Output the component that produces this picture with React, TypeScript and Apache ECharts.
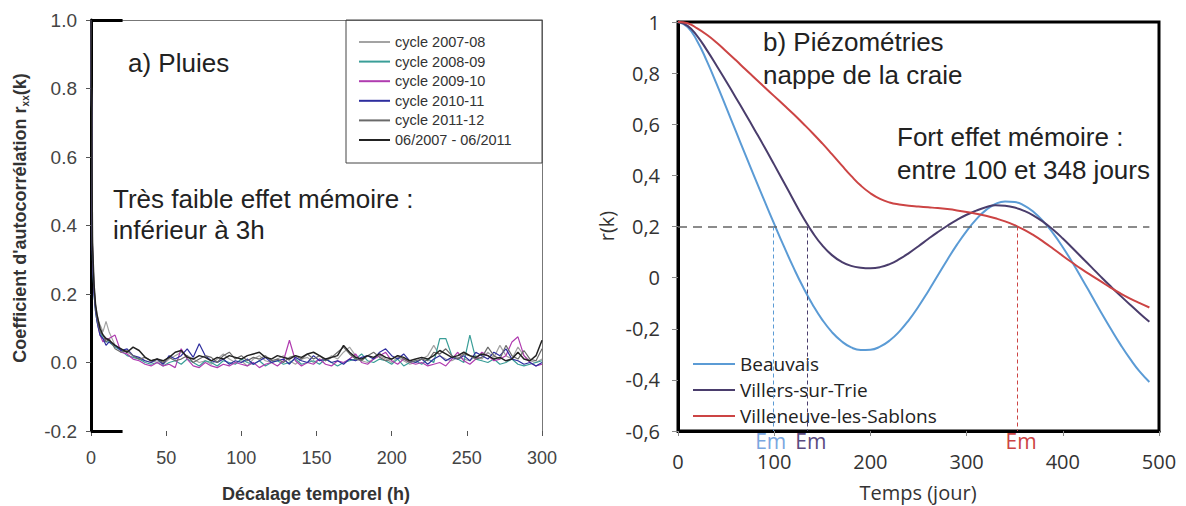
import React, { useEffect, useRef } from 'react';
import * as echarts from 'echarts';

// ---------- Panel a) : rainfall autocorrelation ----------
const LAGS = [
  0, 1, 2, 3, 4, 5, 6, 8, 10,
  12, 16, 20, 24, 28, 32, 36, 40, 44, 48,
  52, 56, 60, 64, 68, 72, 76, 80, 84, 88,
  92, 96, 100, 104, 108, 112, 116, 120, 124, 128,
  132, 136, 140, 144, 148, 152, 156, 160, 164, 168,
  172, 176, 180, 184, 188, 192, 196, 200, 204, 208,
  212, 216, 220, 224, 228, 232, 236, 240, 244, 248,
  252, 256, 260, 264, 268, 272, 276, 280, 284, 288,
  292, 296, 300,
];

const CYCLE_2007_08 = [
  1.0, 0.33, 0.22, 0.17, 0.14, 0.12, 0.11, 0.09, 0.12,
  0.09, 0.05, 0.04, 0.03, 0.02, 0.01, 0.005, 0, 0.005, -0.005,
  0.01, 0.02, 0.03, 0.02, 0.01, 0, 0.005, -0.005, 0.01, 0.025,
  0.01, 0, 0.005, -0.01, 0.01, 0.02, 0.005, 0, 0.01, 0.02,
  0.005, -0.005, 0.01, 0.015, 0, 0.01, 0.005, 0.02, 0.01, 0.03,
  0.045, 0.02, 0.005, 0, 0.01, 0.02, 0.01, 0, 0.015, 0.005,
  -0.005, 0, 0.01, 0.02, 0.05, 0.02, 0.01, 0.005, 0.015, 0.01,
  0.005, 0.02, 0.01, 0.03, 0.015, 0.05, 0.02, 0.01, 0.045, 0.02,
  0.005, 0, 0.01,
];
const CYCLE_2008_09 = [
  1.0, 0.30, 0.20, 0.15, 0.12, 0.10, 0.09, 0.07, 0.06,
  0.06, 0.045, 0.035, 0.02, 0.015, 0.01, 0, -0.005, 0, -0.01,
  0, 0.005, -0.005, 0.01, 0, -0.01, 0.005, 0, -0.01, 0.005,
  0, -0.005, 0.01, 0, -0.005, 0.005, -0.01, 0, 0.005, -0.005,
  0, 0.01, -0.005, 0, 0.005, -0.005, 0.01, 0, -0.01, 0,
  0.005, 0.01, 0.025, 0.005, 0, 0.01, 0.005, -0.005, 0.01, -0.01,
  0, 0.005, -0.005, 0.01, 0, 0.07, 0.07, 0.02, 0.01, 0,
  0.08, 0.01, 0.005, 0, 0.01, -0.005, 0, 0.01, -0.005, -0.01,
  -0.005, 0, 0.005,
];
const CYCLE_2009_10 = [
  1.0, 0.32, 0.21, 0.16, 0.13, 0.10, 0.08, 0.06, 0.07,
  0.07, 0.08, 0.03, 0.025, 0.01, 0.005, -0.005, -0.01, 0, -0.01,
  -0.005, -0.015, 0.04, 0.01, -0.01, -0.015, 0, -0.01, -0.015, -0.005,
  -0.01, 0, -0.005, -0.01, 0, -0.015, -0.005, 0, -0.01, 0.005,
  0.065, 0.005, -0.01, 0, -0.005, 0.01, -0.005, -0.01, 0.005, 0,
  0.01, 0.025, 0, -0.005, 0.01, 0.02, 0.03, 0.005, -0.005, 0.01,
  0, -0.005, 0, -0.01, -0.005, 0, -0.01, 0.01, 0.03, 0.005,
  -0.005, 0.01, 0.03, 0.02, 0.005, 0.01, 0.02, 0.06, 0.075, 0.02,
  0, -0.01, -0.005,
];
const CYCLE_2010_11 = [
  1.0, 0.31, 0.20, 0.15, 0.12, 0.10, 0.08, 0.07, 0.05,
  0.06, 0.05, 0.035, 0.04, 0.02, 0.015, 0.005, 0, 0.01, -0.005,
  0.02, 0.01, 0.02, 0.04, 0.015, 0.055, 0.02, 0.005, 0, 0.01,
  -0.005, 0.005, 0, 0.01, -0.005, 0.005, 0.015, 0, 0.005, 0.01,
  -0.005, 0.015, 0.005, 0, 0.02, 0.005, 0.01, 0, 0.005, -0.005,
  0.01, 0.005, 0.015, 0.02, 0.01, 0.03, 0.04, 0.02, 0.01, 0.025,
  0.005, 0, 0.01, -0.005, 0.01, 0.02, 0.005, 0.015, 0.01, 0.02,
  0.005, 0.03, 0.02, 0.01, 0.03, 0.02, 0.04, 0.01, 0.005, -0.005,
  0, -0.01, 0,
];
const CYCLE_2011_12 = [
  1.0, 0.34, 0.22, 0.16, 0.13, 0.11, 0.09, 0.08, 0.06,
  0.07, 0.04, 0.03, 0.035, 0.02, 0.01, 0.015, 0.005, 0.01, 0,
  0.015, 0.005, 0.01, 0.02, 0, 0.01, 0.02, 0.015, 0, 0.02,
  0.03, 0.01, 0.02, 0.005, 0.015, 0.01, 0.02, 0.005, 0.01, 0,
  0.015, 0.02, 0.01, 0.025, 0.01, 0.02, 0.005, 0.015, 0.03, 0.045,
  0.025, 0.01, 0.005, 0.02, 0.03, 0.015, 0.005, 0.01, 0.02, 0.01,
  0, 0.005, 0.01, 0.005, 0.03, 0.025, 0.04, 0.02, 0.01, 0.025,
  0.02, 0.01, 0.015, 0.045, 0.02, 0.01, 0.05, 0.02, 0.01, 0.035,
  0.01, 0.005, 0.04,
];
const PERIOD_2007_2011 = [
  1.0, 0.35, 0.23, 0.17, 0.14, 0.12, 0.10, 0.08, 0.07,
  0.065, 0.05, 0.04, 0.03, 0.045, 0.035, 0.015, 0.005, 0.01, 0.005,
  0.015, 0.03, 0.035, 0.015, 0.01, 0.02, 0.015, 0.005, 0.015, 0.01,
  0.02, 0.015, 0.01, 0.02, 0.025, 0.03, 0.015, 0.01, 0.02, 0.015,
  0.01, 0.02, 0.015, 0.025, 0.03, 0.02, 0.01, 0.015, 0.02, 0.05,
  0.03, 0.015, 0.01, 0.02, 0.015, 0.025, 0.015, 0.01, 0.02, 0.015,
  0.005, 0.01, 0.015, 0.01, 0.02, 0.035, 0.025, 0.015, 0.02, 0.03,
  0.02, 0.015, 0.025, 0.02, 0.01, 0.015, 0.005, 0.01, 0.03, 0.01,
  0.005, 0.02, 0.065,
];

const RAIN_NAMES = ['cycle 2007-08', 'cycle 2008-09', 'cycle 2009-10', 'cycle 2010-11', 'cycle 2011-12', '06/2007 - 06/2011'];
const RAIN_COLORS = ['#a3a3a3', '#3a9e98', '#b03cb0', '#2e2e9e', '#6a6a6a', '#222222'];
const RAIN_VALUES = [CYCLE_2007_08, CYCLE_2008_09, CYCLE_2009_10, CYCLE_2010_11, CYCLE_2011_12, PERIOD_2007_2011];
const RAIN_Y_TICKS = { min: -0.2, max: 1.0, step: 0.2 };
const RAIN_X_TICKS = { min: 0, max: 300, step: 50 };

// ---------- Panel b) : chalk aquifer piezometry ----------
const DAYS = [
  0, 10, 20, 30, 40, 50, 60, 70, 80, 90,
  100, 110, 120, 130, 140, 150, 160, 170, 180, 190,
  200, 210, 220, 230, 240, 250, 260, 270, 280, 290,
  300, 310, 320, 330, 340, 350, 360, 370, 380, 390,
  400, 410, 420, 430, 440, 450, 460, 470, 480, 490,
];
const BEAUVAIS = [
  1.0, 0.98, 0.925, 0.847, 0.759, 0.667, 0.574, 0.481, 0.389, 0.299,
  0.21, 0.123, 0.04, -0.037, -0.106, -0.165, -0.213, -0.249, -0.273, -0.283,
  -0.282, -0.27, -0.246, -0.211, -0.166, -0.113, -0.054, 0.008, 0.07, 0.129,
  0.182, 0.228, 0.264, 0.288, 0.298, 0.296, 0.282, 0.256, 0.219, 0.173,
  0.119, 0.059, -0.005, -0.071, -0.137, -0.201, -0.262, -0.318, -0.368, -0.408,
];
const VILLERS = [
  1.0, 0.985, 0.945, 0.89, 0.83, 0.768, 0.705, 0.641, 0.576, 0.51,
  0.442, 0.373, 0.304, 0.236, 0.176, 0.126, 0.088, 0.062, 0.046, 0.039,
  0.037, 0.041, 0.053, 0.072, 0.096, 0.123, 0.151, 0.178, 0.203, 0.226,
  0.246, 0.262, 0.275, 0.283, 0.281, 0.274, 0.261, 0.242, 0.217, 0.187,
  0.153, 0.116, 0.078, 0.04, 0.002, -0.035, -0.071, -0.106, -0.14, -0.173,
];
const VILLENEUVE = [
  1.0, 0.995, 0.975, 0.95, 0.92, 0.886, 0.851, 0.815, 0.78, 0.745,
  0.71, 0.675, 0.64, 0.603, 0.565, 0.525, 0.483, 0.44, 0.398, 0.36,
  0.33, 0.308, 0.294, 0.286, 0.281, 0.278, 0.275, 0.272, 0.268, 0.263,
  0.257, 0.25, 0.242, 0.232, 0.22, 0.205, 0.187, 0.165, 0.14, 0.113,
  0.085, 0.058, 0.032, 0.008, -0.016, -0.04, -0.062, -0.082, -0.1, -0.117,
];
const STATION_NAMES = ['Beauvais', 'Villers-sur-Trie', 'Villeneuve-les-Sablons'];
const STATION_COLORS = ['#5b9bd5', '#4a3d6c', '#cc4444'];
const EM_COLORS = ['#7aa6e0', '#5a4a80', '#cc4444'];
const STATION_VALUES = [BEAUVAIS, VILLERS, VILLENEUVE];
const EM_DAYS = [99, 134, 353];
const EM_THRESHOLD = 0.2;
const THRESHOLD_END = 490;
const PIEZO_Y_TICKS = { min: -0.6, max: 1, step: 0.2 };
const PIEZO_X_TICKS = { min: 0, max: 500, step: 100 };

const ARIAL = "'Liberation Sans', Arial, sans-serif";
const CAL = "'Open Sans', sans-serif";

function buildOption() {
  const rainSeries = RAIN_VALUES.map((vals, i) => {
    const s: any = {
      name: RAIN_NAMES[i],
      type: 'line',
      xAxisIndex: 0,
      yAxisIndex: 0,
      symbol: 'none',
      color: RAIN_COLORS[i],
      lineStyle: { width: i === 5 ? 1.5 : 1.2, color: RAIN_COLORS[i] },
      data: LAGS.map((l, j) => [l, vals[j]]),
      z: 2 + i,
    };
    if (i === 5) {
      s.markLine = {
        silent: true,
        symbol: ['none', 'none'],
        label: { show: false },
        lineStyle: { color: '#000', width: 3, type: 'solid' },
        data: [
          [{ coord: [RAIN_X_TICKS.min, RAIN_Y_TICKS.max] }, { coord: [21, RAIN_Y_TICKS.max] }],
          [{ coord: [RAIN_X_TICKS.min, RAIN_Y_TICKS.min] }, { coord: [21, RAIN_Y_TICKS.min] }],
        ],
      };
    }
    return s;
  });

  const emPads = [[0, 5, 0, 0], [0, 0, 0, 8], [0, 0, 0, 7]];
  const piezoSeries = STATION_VALUES.map((vals, i) => {
    const s: any = {
      name: STATION_NAMES[i],
      type: 'line',
      xAxisIndex: 2,
      yAxisIndex: 2,
      smooth: true,
      symbol: 'none',
      color: STATION_COLORS[i],
      lineStyle: { width: 2, color: STATION_COLORS[i] },
      data: DAYS.map((d, j) => [d, vals[j]]),
      z: 3,
    };
    const ml: any[] = [];
    if (i === 0) {
      ml.push([
        {
          coord: [0, EM_THRESHOLD],
          lineStyle: { color: '#666', width: 1.5, type: [9, 6] },
          label: { show: false },
        },
        { coord: [THRESHOLD_END, EM_THRESHOLD] },
      ]);
    }
    ml.push([
      {
        coord: [EM_DAYS[i], EM_THRESHOLD],
        lineStyle: { color: STATION_COLORS[i], width: 1, type: [4, 3] },
        label: {
          show: true,
          position: 'end',
          formatter: 'Em',
          color: EM_COLORS[i],
          fontSize: 21,
          lineHeight: 17,
          fontFamily: CAL,
          distance: 1,
          padding: emPads[i],
        },
      },
      { coord: [EM_DAYS[i], PIEZO_Y_TICKS.min] },
    ]);
    s.markLine = { silent: true, symbol: ['none', 'none'], data: ml };
    return s;
  });

  return {
    animation: false,
    backgroundColor: '#fff',
    textStyle: { fontFamily: ARIAL },
    grid: [
      { left: 91, top: 20, width: 451, height: 411 },
      { left: 678, top: 22, width: 481, height: 409, show: true, borderColor: '#000', borderWidth: 3, backgroundColor: 'rgba(0,0,0,0)' },
    ],
    legend: [
      {
        data: RAIN_NAMES,
        orient: 'vertical',
        icon: 'rect',
        left: 359,
        top: 34,
        padding: 0,
        itemWidth: 31,
        itemHeight: 2,
        itemGap: 3.6,
        itemTextGap: 11,
        selectedMode: false,
        textStyle: { fontSize: 14.5, fontFamily: ARIAL, color: '#333', lineHeight: 16 },
      },
      {
        data: STATION_NAMES,
        orient: 'vertical',
        icon: 'rect',
        left: 693,
        top: 354,
        padding: 0,
        itemWidth: 42,
        itemHeight: 2,
        itemGap: 6,
        itemTextGap: 5,
        selectedMode: false,
        textStyle: { fontSize: 19, fontFamily: CAL, color: '#222', lineHeight: 20 },
      },
    ],
    xAxis: [
      {
        gridIndex: 0,
        type: 'value',
        min: RAIN_X_TICKS.min,
        max: RAIN_X_TICKS.max,
        interval: RAIN_X_TICKS.step,
        axisLine: { show: true, onZero: false, lineStyle: { color: 'rgba(0,0,0,0)' } },
        axisTick: { show: true, length: 5, lineStyle: { color: '#555' } },
        axisLabel: { margin: 18, fontSize: 18, color: '#444', fontFamily: ARIAL },
        splitLine: { show: false },
      },
      {
        gridIndex: 0,
        type: 'value',
        position: 'top',
        min: RAIN_X_TICKS.min,
        max: RAIN_X_TICKS.max,
        axisLine: { show: true, onZero: false, lineStyle: { color: '#777', width: 1 } },
        axisTick: { show: false },
        axisLabel: { show: false },
        splitLine: { show: false },
      },
      {
        gridIndex: 1,
        type: 'value',
        min: PIEZO_X_TICKS.min,
        max: PIEZO_X_TICKS.max,
        interval: PIEZO_X_TICKS.step,
        axisLine: { show: true, onZero: false, lineStyle: { color: '#000', width: 3 } },
        axisTick: { show: true, length: 5, lineStyle: { color: '#888' } },
        axisLabel: { margin: 20, fontSize: 20, lineHeight: 20, color: '#333', fontFamily: CAL },
        splitLine: { show: false },
      },
    ],
    yAxis: [
      {
        gridIndex: 0,
        type: 'value',
        min: RAIN_Y_TICKS.min,
        max: RAIN_Y_TICKS.max,
        interval: RAIN_Y_TICKS.step,
        axisLine: { show: true, onZero: false, lineStyle: { color: '#000', width: 3 } },
        axisTick: { show: true, length: 5, lineStyle: { color: '#555' } },
        axisLabel: { margin: 14, fontSize: 19, color: '#444', fontFamily: ARIAL, formatter: (v: number) => v.toFixed(1) },
        splitLine: { show: false },
      },
      {
        gridIndex: 0,
        type: 'value',
        position: 'right',
        min: RAIN_Y_TICKS.min,
        max: RAIN_Y_TICKS.max,
        axisLine: { show: true, onZero: false, lineStyle: { color: '#777', width: 1 } },
        axisTick: { show: false },
        axisLabel: { show: false },
        splitLine: { show: false },
      },
      {
        gridIndex: 1,
        type: 'value',
        min: PIEZO_Y_TICKS.min,
        max: PIEZO_Y_TICKS.max,
        interval: PIEZO_Y_TICKS.step,
        axisLine: { show: true, onZero: false, lineStyle: { color: '#000', width: 3 } },
        axisTick: { show: true, length: 6, lineStyle: { color: '#888' } },
        axisLabel: {
          margin: 18,
          fontSize: 20,
          color: '#333',
          fontFamily: CAL,
          formatter: (v: number) => {
            const r = Math.round(v * 10) / 10;
            if (r === 0) return '0';
            if (r === 1) return '1';
            return r.toFixed(1).replace('.', ',');
          },
        },
        splitLine: { show: false },
      },
    ],
    graphic: [
      { type: 'rect', z: 10, shape: { x: 346, y: 20, width: 196, height: 143 }, style: { fill: 'none', stroke: '#444', lineWidth: 1 } },
      { type: 'text', x: 128, y: 63, style: { text: 'a) Pluies', fontSize: 26, fontFamily: ARIAL, fill: '#222', verticalAlign: 'middle' } },
      { type: 'text', x: 113, y: 199, style: { text: 'Très faible effet mémoire :', fontSize: 26, fontFamily: ARIAL, fill: '#222', verticalAlign: 'middle' } },
      { type: 'text', x: 113, y: 230, style: { text: 'inférieur à 3h', fontSize: 26, fontFamily: ARIAL, fill: '#222', verticalAlign: 'middle' } },
      {
        type: 'text',
        x: 20,
        y: 218,
        rotation: Math.PI / 2,
        style: {
          text: "{a|Coefficient d'autocorrélation r}{s|xx}{a|(k)}",
          align: 'center',
          verticalAlign: 'middle',
          rich: {
            a: { fontSize: 18, fontWeight: 'bold', fontFamily: ARIAL, fill: '#333', lineHeight: 20 },
            s: { fontSize: 10, fontWeight: 'bold', fontFamily: ARIAL, fill: '#333', lineHeight: 10, verticalAlign: 'bottom' },
          },
        },
      },
      { type: 'text', x: 316, y: 494, style: { text: 'Décalage temporel (h)', fontSize: 18, fontWeight: 'bold', fontFamily: ARIAL, fill: '#333', align: 'center', verticalAlign: 'middle' } },
      { type: 'text', x: 763, y: 42, style: { text: 'b) Piézométries', fontSize: 26, fontFamily: ARIAL, fill: '#222', verticalAlign: 'middle' } },
      { type: 'text', x: 763, y: 75, style: { text: 'nappe de la craie', fontSize: 26, fontFamily: ARIAL, fill: '#222', verticalAlign: 'middle' } },
      { type: 'text', x: 897, y: 137, style: { text: 'Fort effet mémoire :', fontSize: 26, fontFamily: ARIAL, fill: '#222', verticalAlign: 'middle' } },
      { type: 'text', x: 897, y: 170, style: { text: 'entre 100 et 348 jours', fontSize: 26, fontFamily: ARIAL, fill: '#222', verticalAlign: 'middle' } },
      { type: 'text', x: 606, y: 226, rotation: Math.PI / 2, style: { text: 'r(k)', fontSize: 20, fontFamily: CAL, fill: '#333', align: 'center', verticalAlign: 'middle' } },
      { type: 'text', x: 918, y: 492, style: { text: 'Temps (jour)', fontSize: 20, fontFamily: CAL, fill: '#333', align: 'center', verticalAlign: 'middle' } },
    ],
    series: [...rainSeries, ...piezoSeries],
  };
}

export default function App() {
  const ref = useRef<HTMLDivElement>(null);
  useEffect(() => {
    if (!ref.current) return;
    const chart = echarts.init(ref.current, null, { renderer: 'svg' });
    chart.setOption(buildOption() as any);
    return () => chart.dispose();
  }, []);
  return (
    <div
      ref={ref}
      style={{ position: 'fixed', left: 0, top: 0, width: 1186, height: 506, background: '#fff' }}
    />
  );
}
